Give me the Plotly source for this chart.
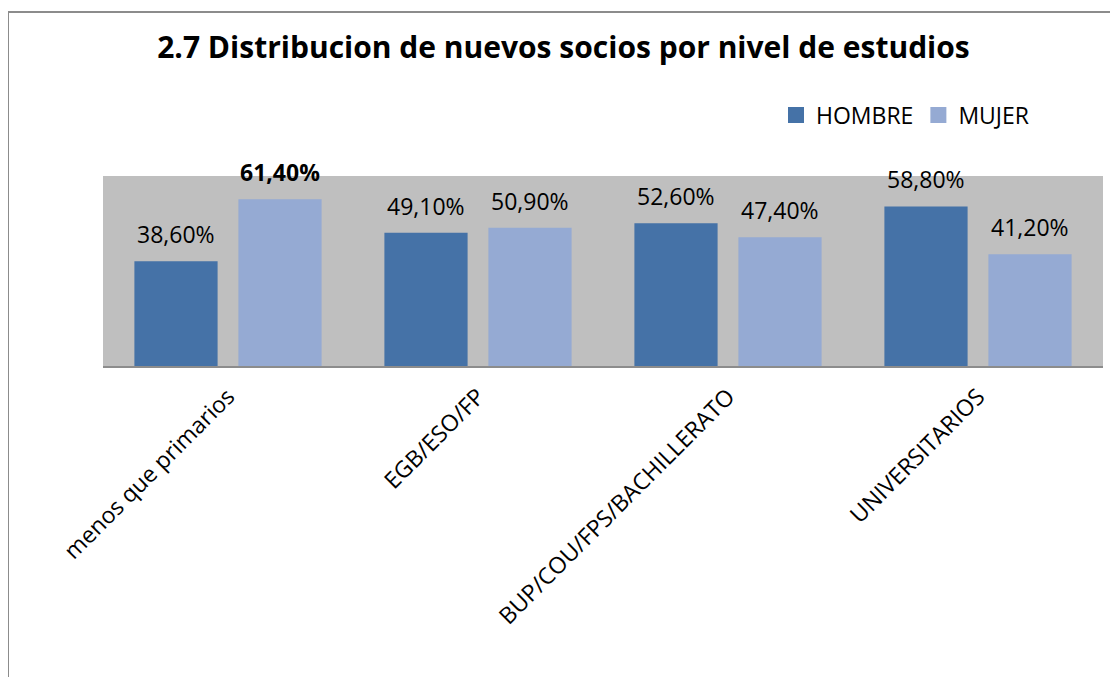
import plotly.graph_objects as go

categories = ["menos que primarios", "EGB/ESO/FP", "BUP/COU/FPS/BACHILLERATO", "UNIVERSITARIOS"]
hombre = [38.6, 49.1, 52.6, 58.8]
mujer = [61.4, 50.9, 47.4, 41.2]
series_names = ["HOMBRE", "MUJER"]
bold_labels = {("MUJER", 0)}
title_text = "2.7 Distribucion de nuevos socios por nivel de estudios"

C_H = "#4572A7"
C_M = "#95AAD3"
FONT = "Open Sans"
FS = 23

def fmt(v):
    return f"{v:.2f}%".replace(".", ",")

fig = go.Figure()
for name, vals, col in [(series_names[0], hombre, C_H), (series_names[1], mujer, C_M)]:
    fig.add_trace(go.Bar(x=categories, y=vals, name=name, marker_color=col,
                         marker_line_width=0, showlegend=False, hoverinfo="skip"))
    # legend proxy with larger square marker
    fig.add_trace(go.Scatter(x=[None], y=[None], mode="markers", name=name,
                             marker=dict(symbol="square", size=16, color=col)))

annotations = []
for si, (name, vals) in enumerate([(series_names[0], hombre), (series_names[1], mujer)]):
    for ci, v in enumerate(vals):
        txt = fmt(v)
        if (name, ci) in bold_labels:
            txt = "<b>" + txt + "</b>"
        annotations.append(dict(x=categories[ci], y=v, text=txt, showarrow=False,
                                xshift=-52 if si == 0 else 52, yshift=27, yanchor="middle",
                                font=dict(family=FONT, size=FS, color="#000000")))

# page has 8px body margin; work in figure coordinates
OFF = 8
W, H = 1110, 669
L, R, T, B = 95, 15, 168, 311
pw, ph = W - L - R, H - T - B
def px_x(x):
    return (x - OFF - L) / pw
def px_y(y):
    return (H - B - (y - OFF)) / ph

shapes = [
    dict(type="line", xref="paper", yref="paper", x0=px_x(8), x1=px_x(1125), y0=px_y(12), y1=px_y(12),
         line=dict(color="#8C8C8C", width=2)),
    dict(type="line", xref="paper", yref="paper", x0=px_x(8), x1=px_x(8), y0=px_y(12), y1=px_y(690),
         line=dict(color="#8C8C8C", width=2)),
]

fig.update_layout(
    width=W, height=H,
    margin=dict(l=L, r=R, t=T, b=B),
    paper_bgcolor="white",
    plot_bgcolor="#BFBFBF",
    barmode="group", bargap=0.168, bargroupgap=0.2,
    title=dict(text="<b>" + title_text + "</b>", x=(563.5 - OFF) / W, xanchor="center",
               y=1 - (47 - OFF) / H, yanchor="middle",
               font=dict(family=FONT, size=30, color="#000000")),
    legend=dict(orientation="h", x=px_x(776), xanchor="left", y=px_y(115), yanchor="middle",
                font=dict(family=FONT, size=FS, color="#000000"), bgcolor="rgba(0,0,0,0)"),
    xaxis=dict(showgrid=False, showline=True, linecolor="#8C8C8C", linewidth=2,
               tickangle=-45, ticks="", tickfont=dict(family=FONT, size=FS, color="#000000"),
               ticklabelstandoff=6, fixedrange=True),
    yaxis=dict(range=[0, 70], visible=False, showgrid=False, zeroline=False, fixedrange=True),
    annotations=annotations,
    shapes=shapes,
    font=dict(family=FONT),
)

fig.write_html("out.html")
